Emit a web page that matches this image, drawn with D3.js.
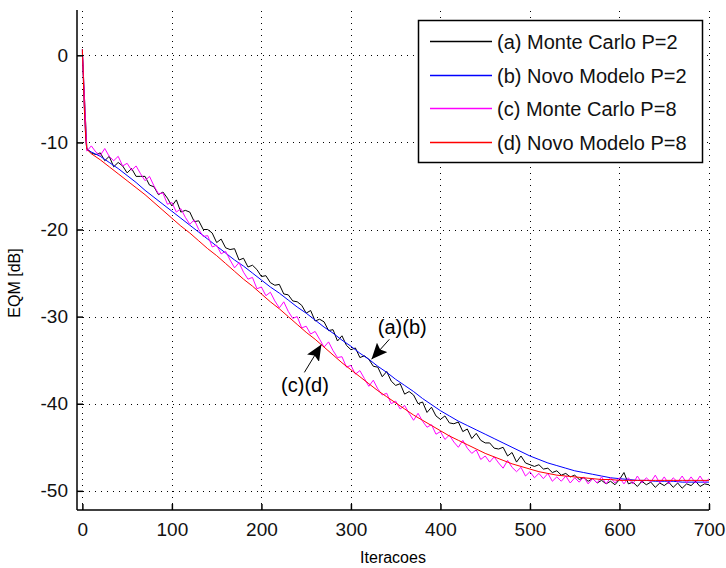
<!DOCTYPE html>
<html>
<head>
<meta charset="utf-8">
<script src="https://cdn.jsdelivr.net/npm/d3@7"></script>
<style>
  body { margin: 0; background: #fff; }
  svg { font-family: "Liberation Sans", Arial, sans-serif; }
</style>
</head>
<body>
<script>
// iteration grids
var modelIter = [0, 1, 2, 3, 4, 5].concat(d3.range(10, 701, 10));
var mcIter = d3.range(0, 701, 5);

var xTicks = [0, 100, 200, 300, 400, 500, 600, 700];
var yTicks = [0, -10, -20, -30, -40, -50];

var seriesNames = ["(a) Monte Carlo P=2", "(b) Novo Modelo P=2", "(c) Monte Carlo P=8", "(d) Novo Modelo P=8"];
var seriesColors = ["#000000", "#0000ff", "#ff00ff", "#ff0000"];

// (a) Monte Carlo P=2, every 5 iterations
var mcP2 = [0.3,
    -10.7, -11.2, -11.4, -11.2, -12.1, -11.6, -12.8, -12.3, -12.7, -13.5,
    -13.0, -13.9, -13.9, -13.9, -14.9, -15.1, -16.0, -15.7, -16.4, -17.3,
    -16.6, -18.0, -17.8, -18.0, -19.1, -19.0, -20.0, -20.0, -20.4, -21.5,
    -21.1, -22.1, -22.3, -22.2, -23.5, -23.3, -24.3, -24.1, -24.6, -25.4,
    -25.3, -26.1, -26.4, -26.3, -27.4, -27.5, -28.2, -28.3, -28.7, -29.6,
    -29.3, -30.5, -30.3, -30.6, -31.6, -31.5, -32.8, -32.2, -33.3, -33.8,
    -33.6, -34.7, -34.5, -34.9, -35.7, -35.8, -36.9, -36.3, -37.4, -37.9,
    -37.7, -38.9, -38.6, -39.0, -40.0, -39.8, -41.0, -40.4, -41.4, -41.8,
    -41.4, -42.2, -42.3, -42.1, -43.2, -42.9, -44.0, -43.4, -44.2, -44.5,
    -44.5, -45.1, -45.2, -45.0, -46.0, -45.6, -46.7, -46.0, -46.8, -47.0,
    -47.2, -47.0, -47.5, -47.4, -47.9, -47.7, -48.2, -48.0, -48.4, -48.2,
    -48.7, -48.5, -48.9, -48.6, -49.1, -48.8, -49.2, -48.9, -49.3, -48.7,
    -47.9, -49.2, -49.0, -49.5, -48.9, -49.3, -49.0, -49.6, -49.1, -49.4,
    -49.0, -49.6, -49.1, -49.7, -49.2, -49.4, -48.9, -49.5, -49.2, -49.3];

// (b) Novo Modelo P=2
var modelP2 = [0.7, -2.4, -5.6, -7.9, -9.9, -10.8,
    -11.1, -11.6, -12.3, -13.0, -13.8, -14.6, -15.5, -16.3, -17.1, -17.9,
    -18.7, -19.5, -20.3, -21.1, -21.9, -22.7, -23.5, -24.2, -25.0, -25.8,
    -26.6, -27.3, -28.1, -28.9, -29.6, -30.4, -31.2, -31.9, -32.7, -33.4,
    -34.2, -34.9, -35.7, -36.4, -37.2, -37.9, -38.6, -39.4, -40.1, -40.8,
    -41.4, -42.0, -42.5, -43.0, -43.5, -44.0, -44.5, -45.0, -45.5, -46.0,
    -46.4, -46.8, -47.1, -47.4, -47.7, -47.9, -48.1, -48.3, -48.5, -48.6,
    -48.7, -48.8, -48.8, -48.9, -48.9, -48.9, -49.0, -49.0, -49.0, -49.0];

// (c) Monte Carlo P=8, every 5 iterations
var mcP8 = [0.5,
    -11.0, -10.4, -11.1, -11.5, -10.7, -11.6, -12.1, -11.6, -12.7, -12.4,
    -13.2, -12.7, -13.6, -14.4, -13.9, -15.0, -15.9, -15.8, -17.1, -16.9,
    -18.0, -17.6, -18.6, -19.4, -18.9, -20.0, -20.8, -20.7, -22.0, -21.8,
    -22.8, -22.5, -23.5, -24.4, -23.8, -24.9, -25.7, -25.5, -26.8, -26.6,
    -27.6, -27.2, -28.2, -29.0, -28.3, -29.4, -30.2, -30.0, -31.3, -31.1,
    -32.0, -31.7, -32.6, -33.5, -32.9, -33.9, -34.7, -34.6, -35.8, -35.6,
    -36.6, -36.2, -37.1, -38.0, -37.3, -38.3, -39.0, -38.8, -40.0, -39.7,
    -40.6, -40.2, -41.1, -41.9, -41.1, -42.0, -42.7, -42.4, -43.5, -43.2,
    -44.1, -43.6, -44.4, -45.0, -44.2, -45.1, -45.7, -45.3, -46.4, -46.0,
    -46.7, -46.1, -46.8, -47.4, -46.5, -47.3, -47.8, -47.3, -48.3, -47.8,
    -48.5, -48.0, -48.6, -48.0, -48.9, -48.4, -48.9, -48.3, -49.1, -48.5,
    -49.0, -48.4, -49.2, -48.6, -49.1, -48.4, -49.2, -48.5, -49.1, -48.5,
    -49.2, -48.5, -49.2, -48.3, -49.1, -48.5, -49.0, -48.2, -49.1, -48.4,
    -49.2, -48.5, -49.0, -48.3, -49.1, -48.4, -49.1, -48.3, -49.1, -48.6];

// (d) Novo Modelo P=8
var modelP8 = [0.7, -2.4, -5.6, -7.9, -9.9, -10.8,
    -11.3, -12.0, -12.8, -13.6, -14.4, -15.2, -16.0, -16.9, -17.8, -18.7,
    -19.6, -20.4, -21.3, -22.2, -23.0, -23.9, -24.8, -25.7, -26.5, -27.4,
    -28.3, -29.1, -30.0, -30.9, -31.8, -32.6, -33.5, -34.4, -35.3, -36.1,
    -36.9, -37.7, -38.5, -39.2, -39.9, -40.6, -41.3, -41.9, -42.5, -43.1,
    -43.7, -44.2, -44.7, -45.2, -45.7, -46.1, -46.5, -46.9, -47.2, -47.5,
    -47.8, -48.0, -48.2, -48.3, -48.4, -48.5, -48.6, -48.7, -48.7, -48.8,
    -48.8, -48.8, -48.8, -48.8, -48.8, -48.8, -48.8, -48.8, -48.8, -48.8];

// annotations: label, label anchor (data coords), arrow tail -> tip (data coords)
var notes = [
    {text: "(a)(b)", x: 330, y: -32.0, tail: [343, -32.6], tip: [323, -34.9]},
    {text: "(c)(d)", x: 222, y: -38.6, tail: [248, -36.4], tip: [267, -33.2]}
];

var width = 726,
    height = 568,
    plotLeft = 77,
    plotRight = 709,
    plotTop = 10,
    plotBottom = 510,
    tickFont = 19;

var svg = d3.select("body").append("svg")
            .attr("width", width)
            .attr("height", height);

var x = d3.scaleLinear().domain([-6, 700]).range([plotLeft, plotRight]);
var y = d3.scaleLinear().domain([-52.2, 5.2]).range([plotBottom, plotTop]);

// dotted grid
var grid = svg.append("g").attr("class", "grid")
              .attr("stroke", "#000")
              .attr("stroke-width", 1)
              .attr("stroke-dasharray", "1,5");

grid.selectAll(".gx").data(xTicks).enter()
    .append("line")
    .attr("x1", function(d) {return Math.round(x(d)) + 0.5; })
    .attr("x2", function(d) {return Math.round(x(d)) + 0.5; })
    .attr("y1", plotBottom)
    .attr("y2", plotTop);

grid.selectAll(".gy").data(yTicks).enter()
    .append("line")
    .attr("y1", function(d) {return Math.round(y(d)) + 0.5; })
    .attr("y2", function(d) {return Math.round(y(d)) + 0.5; })
    .attr("x1", plotLeft)
    .attr("x2", plotRight);

// curves, drawn in legend order so red ends on top
var line = d3.line()
             .x(function(d) {return x(d[0]); })
             .y(function(d) {return y(d[1]); });

var curves = [
    d3.zip(mcIter, mcP2),
    d3.zip(modelIter, modelP2),
    d3.zip(mcIter, mcP8),
    d3.zip(modelIter, modelP8)
];

svg.append("g").selectAll("path")
   .data(curves).enter()
   .append("path")
   .attr("d", line)
   .attr("fill", "none")
   .attr("stroke", function(d, i) {return seriesColors[i]; })
   .attr("stroke-width", 1);

// axes, ticks pointing inward, no box on top / right
// plain hyphen minus like the original (d3 would use U+2212)
var plainNum = function(d) {return String(d); };
var xAxis = d3.axisBottom(x).tickValues(xTicks).tickSize(-6).tickPadding(13).tickFormat(plainNum);
var yAxis = d3.axisLeft(y).tickValues(yTicks).tickSize(-6).tickPadding(9).tickFormat(plainNum);

var gx = svg.append("g")
            .attr("transform", "translate(0," + plotBottom + ")")
            .call(xAxis);
var gy = svg.append("g")
            .attr("transform", "translate(" + plotLeft + ",0)")
            .call(yAxis);

[gx, gy].forEach(function(g) {
    g.select(".domain").attr("stroke", "#000").attr("stroke-width", 1.5);
    g.selectAll(".tick line").attr("stroke", "#000").attr("stroke-width", 1.5);
    g.selectAll(".tick text")
     .attr("fill", "#111")
     .style("font-size", tickFont + "px")
     .style("font-family", "'Liberation Sans', Arial, sans-serif");
});
gx.select(".domain").attr("d", "M" + plotLeft + ",0H" + plotRight);
gy.select(".domain").attr("d", "M0," + plotBottom + "V" + plotTop);

svg.append("text")
   .attr("x", (plotLeft + plotRight) / 2)
   .attr("y", 563)
   .attr("text-anchor", "middle")
   .style("font-size", "16px")
   .text("Iteracoes");

svg.append("text")
   .attr("transform", "translate(20,283) rotate(-90)")
   .attr("text-anchor", "middle")
   .style("font-size", "16px")
   .text("EQM [dB]");

// arrows
svg.append("defs").append("marker")
   .attr("id", "head")
   .attr("viewBox", "0 0 16 14")
   .attr("refX", 16)
   .attr("refY", 7)
   .attr("markerWidth", 16)
   .attr("markerHeight", 14)
   .attr("markerUnits", "userSpaceOnUse")
   .attr("orient", "auto")
   .append("path")
   .attr("d", "M0,0L16,7L0,14L3,7Z")
   .attr("fill", "#000");

var noteG = svg.append("g").selectAll("g").data(notes).enter().append("g");

noteG.append("line")
     .attr("x1", function(d) {return x(d.tail[0]); })
     .attr("y1", function(d) {return y(d.tail[1]); })
     .attr("x2", function(d) {return x(d.tip[0]); })
     .attr("y2", function(d) {return y(d.tip[1]); })
     .attr("stroke", "#000")
     .attr("stroke-width", 1)
     .attr("marker-end", "url(#head)");

noteG.append("text")
     .attr("x", function(d) {return x(d.x); })
     .attr("y", function(d) {return y(d.y); })
     .style("font-size", "20px")
     .text(function(d) {return d.text; });

// legend
var legX = 418, legY = 20, legW = 284, legH = 142, rowH = 33.5;

var leg = svg.append("g").attr("class", "legend");
leg.append("rect")
   .attr("x", legX + 0.5)
   .attr("y", legY + 0.5)
   .attr("width", legW)
   .attr("height", legH)
   .attr("fill", "#fff")
   .attr("stroke", "#000")
   .attr("stroke-width", 1.5);

var rows = leg.selectAll(".row").data(seriesNames).enter()
              .append("g")
              .attr("class", "row")
              .attr("transform", function(d, i) {return "translate(" + legX + "," + (Math.round(legY + 21 + i * rowH) + 0.5) + ")"; });

rows.append("line")
    .attr("x1", 12)
    .attr("x2", 74)
    .attr("stroke", function(d, i) {return seriesColors[i]; })
    .attr("stroke-width", 1.5);

rows.append("text")
    .attr("x", 79)
    .attr("dy", "0.36em")
    .style("font-size", "20px")
    .attr("fill", "#111")
    .text(function(d) {return d; });
</script>
</body>
</html>
